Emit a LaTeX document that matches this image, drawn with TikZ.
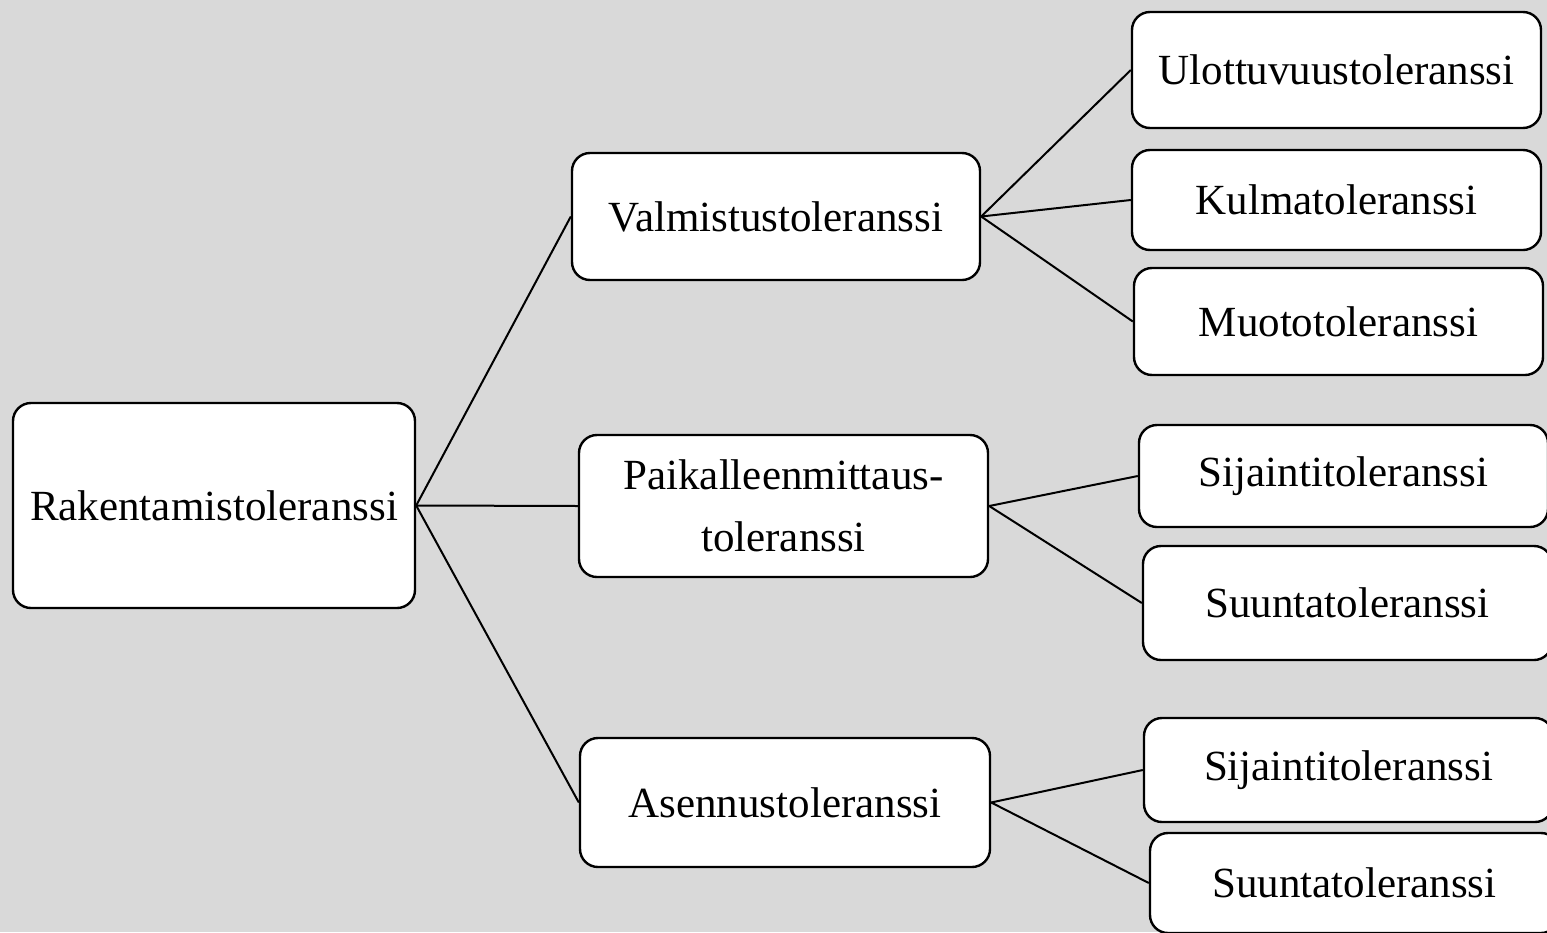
\documentclass[tikz,border=0pt]{standalone}
\usepackage{fontspec}
\setmainfont{Liberation Serif}
\definecolor{bg}{HTML}{D9D9D9}
\begin{document}
\begin{tikzpicture}[x=0.5pt,y=-0.5pt,
  box/.style={draw=black, line width=1.2pt, fill=white, rounded corners=9pt,
    inner sep=0pt, align=center, font=\fontsize{21.5}{31}\selectfont},
  conn/.style={line width=1pt}]
\useasboundingbox (0,0) rectangle (1547,932);
\clip (0,0) rectangle (1547,932);
\fill[bg] (0,0) rectangle (1547,932);
\node[box, minimum width=201pt, minimum height=102.5pt] (R) at (214,505.5) {Rakentamistoleranssi};
\node[box, minimum width=204pt, minimum height=63.5pt] (V) at (776,216.5) {Valmistustoleranssi};
\node[box, minimum width=204.5pt, minimum height=71pt] (P) at (783.5,506) {Paikalleenmittaus-\\toleranssi};
\node[box, minimum width=205pt, minimum height=64.5pt] (A) at (785,802.5) {Asennustoleranssi};
\node[box, minimum width=204.5pt, minimum height=58pt] (U) at (1336.5,70) {Ulottuvuustoleranssi};
\node[box, minimum width=204.5pt, minimum height=50pt] (K) at (1336.5,200) {Kulmatoleranssi};
\node[box, minimum width=204.5pt, minimum height=53.5pt] (M) at (1338.5,321.5) {Muototoleranssi};
\node[box, minimum width=204.5pt, minimum height=51pt] (S1) at (1343.5,476) {Sijaintitoleranssi};
\node[box, minimum width=204.5pt, minimum height=57pt] (Su1) at (1347.5,603) {Suuntatoleranssi};
\node[box, minimum width=204.5pt, minimum height=52pt] (S2) at (1348.5,770) {Sijaintitoleranssi};
\node[box, minimum width=204.5pt, minimum height=50pt] (Su2) at (1354.5,883) {Suuntatoleranssi};
\draw[conn] (R.east) -- (V.west);
\draw[conn] (R.east) -- (P.west);
\draw[conn] (R.east) -- (A.west);
\draw[conn] (V.east) -- (U.west);
\draw[conn] (V.east) -- (K.west);
\draw[conn] (V.east) -- (M.west);
\draw[conn] (P.east) -- (S1.west);
\draw[conn] (P.east) -- (Su1.west);
\draw[conn] (A.east) -- (S2.west);
\draw[conn] (A.east) -- (Su2.west);
\end{tikzpicture}
\end{document}
